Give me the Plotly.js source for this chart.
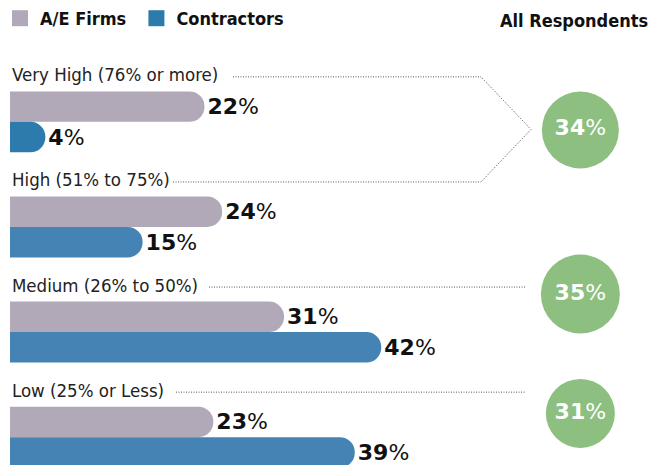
<!DOCTYPE html>
<html>
<head>
<meta charset="utf-8">
<script src="https://cdn.plot.ly/plotly-3.0.1.min.js"></script>
<style>html,body{margin:0;padding:0;background:#fff;}#chart{width:648px;height:465px;}</style>
</head>
<body>
<div id="chart"></div>
<script>
// ---- data ----
const categories = ["Very High (76% or more)", "High (51% to 75%)", "Medium (26% to 50%)", "Low (25% or Less)"];
const aeFirms = [22, 24, 31, 23];
const contractors = [4, 15, 42, 39];
const allRespondents = [34, 35, 31];
const seriesNames = ["A/E Firms", "Contractors"];
const panelTitle = "All Respondents";

// ---- style / layout ----
const condensed = "Liberation Sans Narrow, DejaVu Sans Condensed, Roboto Condensed, sans-serif";
const heavy = "DejaVu Sans, sans-serif";
const aeColor = "#b1a9b8";
const cColors = ["#2c7bac", "#4483b3", "#4483b3", "#4483b3"];
const legendC = "#2c7bac";
const green = "#8dbf80";
const circleX = 0.894;                      // x2 (0..1)
const circleY = [0.077, 1.638, 2.774];      // y2 (category index units)
const circleSize = [77, 79, 69];
const labelShiftPx = 45;
const pxPerUnit = 105.1;
const labelOff = labelShiftPx / pxPerUnit;
const yRange = [3.265, -0.779];

const traces = [
  {type: "bar", orientation: "h", y: categories, x: aeFirms, name: seriesNames[0],
   marker: {color: aeColor}, showlegend: false,
   texttemplate: "<b>%{x}</b>%", textposition: "outside", constraintext: "none", cliponaxis: false,
   textfont: {family: heavy, size: 22, color: "#111"}, hoverinfo: "skip"},
  {type: "bar", orientation: "h", y: categories, x: contractors, name: seriesNames[1],
   marker: {color: cColors}, showlegend: false,
   texttemplate: "<b>%{x}</b>%", textposition: "outside", constraintext: "none", cliponaxis: false,
   textfont: {family: heavy, size: 22, color: "#111"}, hoverinfo: "skip"},
  {type: "scatter", mode: "markers+text", xaxis: "x2", yaxis: "y2",
   x: allRespondents.map(() => circleX), y: circleY, text: allRespondents,
   texttemplate: "<b>%{text}</b>%", textposition: "middle center",
   textfont: {family: heavy, size: 22, color: "#fff"},
   marker: {size: circleSize, color: green, opacity: 1, line: {width: 0}}, showlegend: false, hoverinfo: "skip", cliponaxis: false},
  {type: "scatter", mode: "markers", x: [null], y: [null], name: "<b>" + seriesNames[0] + "</b>&nbsp;",
   marker: {symbol: "square", size: 18, color: aeColor}},
  {type: "scatter", mode: "markers", x: [null], y: [null], name: "<b>" + seriesNames[1] + "</b>",
   marker: {symbol: "square", size: 18, color: legendC}}
];

const dotLine = {color: "#555", width: 1, dash: "1px,1.5px"};
const px = v => (v - 10) / 638;
const shapes = [
  {type: "path", xref: "paper", yref: "y2",
   path: `M${px(233)},${-labelOff} L${px(481)},${-labelOff} L${px(531)},${(1 - 2*labelOff)/2} L${px(481)},${1 - labelOff} L${px(173)},${1 - labelOff}`,
   line: dotLine},
  {type: "line", xref: "paper", yref: "y2", x0: px(209), x1: px(525), y0: 2 - labelOff, y1: 2 - labelOff, line: dotLine},
  {type: "line", xref: "paper", yref: "y2", x0: px(176), x1: px(525), y0: 3 - labelOff, y1: 3 - labelOff, line: dotLine}
];

const annotations = categories.map(c => ({
  x: 0, xref: "x", xanchor: "left", y: c, yref: "y", yshift: labelShiftPx + 2, yanchor: "middle",
  text: c, showarrow: false, font: {family: condensed, size: 18.5, color: "#222"}
}));
annotations.push({x: 1, xref: "paper", xanchor: "right", xshift: 2, y: 1, yref: "paper", yshift: 20, yanchor: "middle",
  text: "<b>" + panelTitle + "</b>", showarrow: false, font: {family: condensed, size: 18, color: "#111"}});

const layout = {
  width: 648, height: 465,
  margin: {l: 10, r: 0, t: 40, b: 0},
  paper_bgcolor: "#fff", plot_bgcolor: "#fff",
  barmode: "group", bargap: 0.42, bargroupgap: 0, barcornerradius: "50%",
  xaxis: {range: [0, 72.17], visible: false, fixedrange: true},
  yaxis: {type: "category", range: yRange, visible: false, fixedrange: true},
  xaxis2: {overlaying: "x", range: [0, 1], visible: false},
  yaxis2: {overlaying: "y", type: "linear", range: yRange, visible: false},
  showlegend: true,
  legend: {orientation: "h", xref: "container", yref: "container", x: 0, y: 1, xanchor: "left", yanchor: "top",
    font: {family: condensed, size: 18, color: "#111"}, itemwidth: 30,
    bgcolor: "rgba(0,0,0,0)"},
  shapes: shapes,
  annotations: annotations,
  font: {family: condensed}
};

Plotly.newPlot("chart", traces, layout, {staticPlot: true, displayModeBar: false});
</script>
</body>
</html>
